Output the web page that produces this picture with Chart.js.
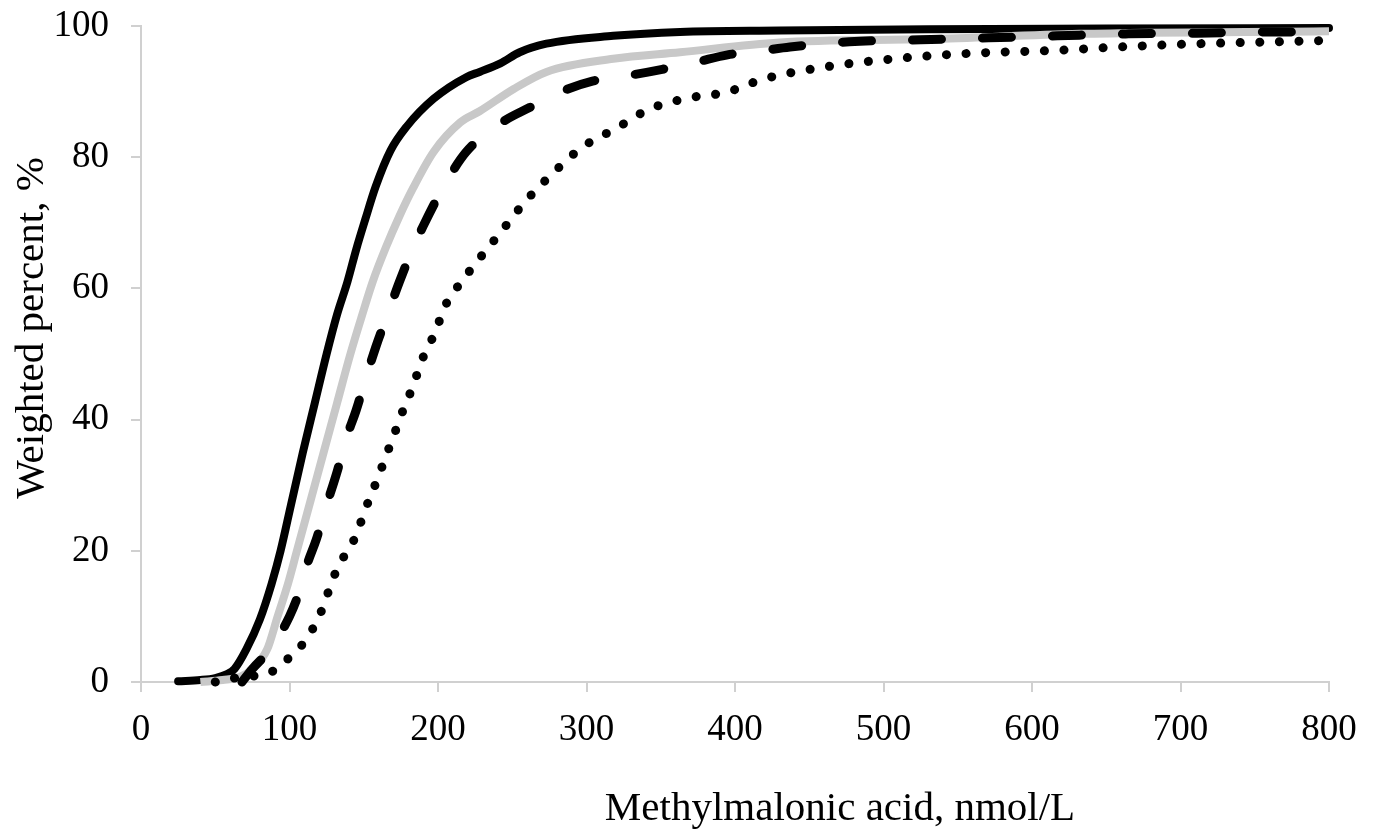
<!DOCTYPE html>
<html>
<head>
<meta charset="utf-8">
<script src="https://cdn.jsdelivr.net/npm/chart.js@4.4.1/dist/chart.umd.min.js"></script>
<style>
    html, body { margin: 0; padding: 0; background: #ffffff; }
    #wrap { width: 1378px; height: 831px; }
</style>
</head>
<body>
<div id="wrap"><canvas id="mmaChart" width="1378" height="831"></canvas></div>
<script>
// curves: x = MMA (nmol/L), y = weighted percent
var blackX = [25, 40, 50, 58, 63, 71, 80, 88, 94, 101, 109, 117, 125, 132, 139, 145, 151, 158, 168, 179, 197, 219, 228, 242, 255, 273, 318, 363, 430, 530, 650, 800];
var blackY = [0.1, 0.3, 0.6, 1.2, 2, 5, 9.5, 15, 20, 27, 35, 42.5, 50, 56, 61, 66, 70.5, 75.5, 81, 84.7, 88.9, 92.2, 93, 94.3, 96, 97.3, 98.5, 99.1, 99.3, 99.5, 99.6, 99.7];

var grayX = [40, 55, 67, 75, 85, 92, 99, 105, 114, 123, 132, 141, 149, 156, 165, 174, 183, 197, 215, 228, 251, 273, 318, 363, 430, 531, 632, 800];
var grayY = [0, 0.3, 0.8, 2, 5, 10, 15, 20, 27.5, 35, 42.5, 50, 56, 61, 66.3, 71, 75.2, 80.8, 85.3, 87, 90.4, 93, 95, 96, 97.5, 98, 98.8, 99.2];

var dashX = [68, 75, 87, 100, 107, 112, 118, 125, 132, 138, 145, 151, 158, 166, 174, 182, 190, 205, 219, 243, 262, 282, 304, 327, 351, 374, 395, 417, 437, 477, 525, 571, 617, 665, 711, 757, 800];
var dashY = [0, 2, 5, 10, 14, 18, 21.7, 27, 32, 37, 41.5, 46, 51, 56, 61, 65.5, 69.5, 76, 80.8, 85.3, 87.6, 89.9, 91.6, 92.4, 93.4, 94.5, 95.6, 96.2, 96.8, 97.6, 97.9, 98.2, 98.5, 98.8, 98.9, 99.1, 99.1];

var dotX = [50, 60, 75, 86, 96, 106, 114, 120, 125, 129, 135, 142, 147, 151, 156, 161, 165, 170, 174, 179, 184, 188, 193, 199, 203, 210, 226, 242, 259, 278, 297, 320, 342, 368, 394, 419, 459, 512, 565, 618, 658, 712, 766, 800];
var dotY = [0, 0.5, 0.9, 1.3, 3, 5, 7.5, 10, 13, 15.6, 18.5, 21, 23.7, 26.3, 29.1, 32, 34.5, 37.4, 40, 42.8, 45.6, 48.4, 51, 53.7, 56.5, 59.2, 64, 68.5, 73.3, 77.7, 81.5, 84.4, 87.3, 89, 89.9, 91.9, 93.7, 95.1, 95.9, 96.3, 96.8, 97.3, 97.6, 97.8];

var xTicks = [0, 100, 200, 300, 400, 500, 600, 700, 800];
var yTicks = [0, 20, 40, 60, 80, 100];

var xTitle = 'Methylmalonic acid, nmol/L';
var yTitle = 'Weighted percent, %';

function toPoints(xs, ys) {
    var pts = [];
    for (var i = 0; i < xs.length; i++) {
        pts.push({ x: xs[i], y: ys[i] });
    }
    return pts;
}

var serif = '"Liberation Serif", "Times New Roman", serif';
var axisGray = '#d0d0d0';

// axis titles sit off-centre in the original, so they are drawn here
var axisTitles = {
    id: 'axisTitles',
    afterDraw: function (chart) {
        var c = chart.ctx;
        c.save();
        c.fillStyle = '#000000';
        c.font = '41px ' + serif;
        c.textAlign = 'center';
        c.textBaseline = 'alphabetic';
        c.fillText(xTitle, 840, 820);
        c.translate(43, 328);
        c.rotate(-Math.PI / 2);
        c.fillText(yTitle, 0, 0);
        c.restore();
    }
};

var lineBase = {
    pointRadius: 0,
    pointHoverRadius: 0,
    fill: false,
    cubicInterpolationMode: 'monotone',
    clip: false,
    borderWidth: 8
};

var datasets = [
    Object.assign({}, lineBase, { label: 'dotted', data: toPoints(dotX, dotY), borderColor: '#000000', borderWidth: 9, borderDash: [0.1, 19.5], borderCapStyle: 'round', order: 0 }),
    Object.assign({}, lineBase, { label: 'dashed', data: toPoints(dashX, dashY), borderColor: '#000000', borderWidth: 9, borderDash: [29, 41], borderCapStyle: 'round', order: 1 }),
    Object.assign({}, lineBase, { label: 'gray', data: toPoints(grayX, grayY), borderColor: '#c8c8c8', order: 2 }),
    Object.assign({}, lineBase, { label: 'black', data: toPoints(blackX, blackY), borderColor: '#000000', borderCapStyle: 'round', order: 3 })
];

var ctx = document.getElementById('mmaChart').getContext('2d');
var chart = new Chart(ctx, {
    type: 'line',
    data: { datasets: datasets },
    plugins: [axisTitles],
    options: {
        responsive: false,
        animation: false,
        events: [],
        layout: { padding: { left: 0, right: 49, top: 26, bottom: 0 } },
        plugins: {
            legend: { display: false },
            tooltip: { enabled: false }
        },
        scales: {
            x: {
                type: 'linear',
                min: 0,
                max: 800,
                afterBuildTicks: function (scale) {
                    scale.ticks = xTicks.map(function (v) { return { value: v }; });
                },
                afterFit: function (scale) { scale.height = 149; },
                ticks: { color: '#000000', font: { family: serif, size: 37 }, padding: 16, maxRotation: 0 },
                grid: { display: true, drawOnChartArea: false, drawTicks: true, tickLength: 10, color: axisGray, lineWidth: 2 },
                border: { display: true, color: axisGray, width: 2 }
            },
            y: {
                type: 'linear',
                min: 0,
                max: 100,
                afterBuildTicks: function (scale) {
                    scale.ticks = yTicks.map(function (v) { return { value: v }; });
                },
                afterFit: function (scale) {
                    scale.width = 141;
                    scale.paddingTop = 0;
                    scale.paddingBottom = 0;
                },
                ticks: { color: '#000000', font: { family: serif, size: 37 }, padding: 22 },
                grid: { display: true, drawOnChartArea: false, drawTicks: true, tickLength: 10, color: axisGray, lineWidth: 2 },
                border: { display: true, color: axisGray, width: 2 }
            }
        }
    }
});
</script>
</body>
</html>
